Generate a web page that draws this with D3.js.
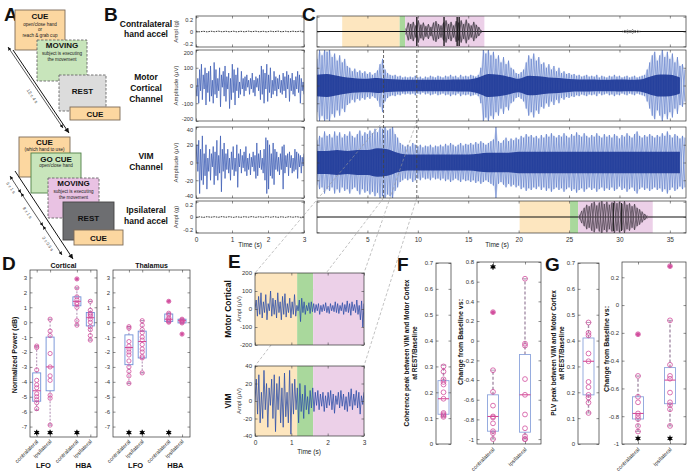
<!DOCTYPE html>
<html><head><meta charset="utf-8">
<script src="https://cdn.jsdelivr.net/npm/d3@7"></script>
<style>body{margin:0;background:#fff}</style>
</head><body><script>
// ================= DATA =================
// Panel A schematic
const aTrial1 = [["CUE","open/close hand","or","reach & grab cup"],["MOVING","subject is executing","the movement"],["REST"],["CUE"]];
const aTrial2 = [["CUE","(which hand to use)"],["GO CUE","open/close hand"],["MOVING","subject is executing","the movement"],["REST"],["CUE"]];
const aDurations1 = ["12 ± 4 s"];
const aDurations2 = ["5 ± 1 s","8 ± 1 s","2 ± 0.5 s"];
// Panel B (3 s windows), sample values
const bMotor = [0,-60,40,-100,90,-30,120,-80,60,-20,100,-110,70,-40,80,-90,110,-60,30,-100,130,-50,90,-70,40,-30,100,-120,60,-10,80,-60,110,-90,50,-20,70,-130,40,-80,120,-40,90,-110,60,-30,100,-70,20,-50,80,-20,40,-60,50,-30,60,-10,30,-50,40,-20,70,-40,30,-60,50,-10,40,-30,60,-80,110,-50,90,-100,70,-20,120,-90,60,-40,100,-70,30,-50,80,-30,50,-60,40,-20,60,-40,30,-50,70,-30,50,-70,80,-20,60,-90,40,-30,70,-50,30,-60,50,-20,80,-40,60,-100,40,-30,20,-50];
const bVim = [0,20,-10,25,-35,15,-20,30,-25,10,-15,20,-30,5,-10,15,-20,10,-5,18,-25,12,-15,25,-20,8,-12,30,-33,15,-10,22,-18,10,-8,15,-12,5,-20,12,-8,18,-15,5,-10,20,-28,10,-5,15,-12,8,-6,12,-10,18,-15,5,-8,10,-14,6,-5,12,-10,8,-18,22,-15,10,-6,14,-8,5,-12,15,-20,28,-35,25,-30,20,-15,10,-18,22,-25,15,-8,12,-10,6,-14,10,-8,18,-30,20,-12,8,-5,10,-15,12,-6,8,-12,5,-10,15,-8,12,-18,10,-5,8,-12,6,-4,10];
const bAccContra = [0.004,-0.004,0.003,-0.005,0.004,-0.003,0.005,-0.004,0.003,-0.004,0.004,-0.005,0.003,-0.004,0.005,-0.003,0.004,-0.004,0.003,-0.005,0.004,-0.003,0.005,-0.004,0.003,-0.004,0.004,-0.003,0.005,-0.004];
const bAccIpsi = [-0.004,0.003,-0.005,0.004,-0.003,0.004,-0.004,0.005,-0.003,0.004,-0.005,0.003,-0.004,0.004,-0.003,0.005,-0.004,0.003,-0.004,0.005,-0.003,0.004,-0.004,0.003,-0.005,0.004,-0.003,0.004,-0.004,0.003];
const bTicks = [0,1,2,3];
// Panel C (0-36.5 s), amplitude envelopes, 0.25 s steps
const cMotorEnv = [150,200,170,200,190,200,160,180,140,170,130,150,110,100,80,95,75,85,70,80,65,75,60,70,85,120,150,90,70,60,55,60,50,55,45,50,45,50,45,55,45,50,40,50,45,55,50,45,55,50,45,55,50,60,50,55,45,60,50,55,50,60,55,50,60,100,200,180,200,170,190,150,170,130,160,120,140,100,90,70,65,75,90,130,170,150,180,140,160,120,130,100,120,90,110,80,100,70,80,65,70,60,65,55,60,50,55,60,50,55,50,60,45,55,50,45,55,50,60,50,55,45,50,55,45,50,55,45,50,55,60,90,130,170,190,140,170,200,160,190,150,180,130,160,110,120,90];
const cVimEnv = [25,30,28,35,30,32,28,35,30,34,28,32,30,35,30,28,32,36,30,34,32,36,33,38,34,40,38,40,36,38,40,32,28,22,20,18,20,18,22,20,18,20,17,19,18,20,17,19,18,20,18,21,19,22,20,18,20,22,19,21,20,22,20,23,21,24,22,20,22,24,26,40,24,22,25,28,24,27,25,28,26,30,28,32,29,31,28,30,27,31,28,32,29,33,30,28,31,29,33,30,28,32,30,34,31,29,33,30,28,31,29,33,30,28,32,29,31,28,32,30,27,31,29,33,30,28,32,35,30,28,31,29,32,30,28,31,29,33,30,35,31,28,32,30,27,30,28];
// dense core of the traces, 1 s steps
const cMotorCore = [60,65,55,45,40,38,42,36,34,32,32,32,33,33,34,34,45,65,60,50,38,55,52,45,42,36,34,34,33,33,34,33,34,50,62,60,45];
const cVimCore = [13,13,14,13,14,14,16,15,11,9,9,9,9,9,9,9,10,11,11,11,12,12,12,12,12,12,12,12,12,12,12,12,12,12,12,12,12];
const cContraBurstT0 = 8.8;
const cContraBurst = [0.04,0.12,0.1,0.13,0.08,0.15,0.09,0.12,0.07,0.1,0.06,0.12,0.14,0.1,0.08,0.12,0.15,0.1,0.13,0.08,0.14,0.12,0.15,0.1,0.16,0.11,0.08,0.13,0.09,0.06,0.02];
const cContraSpikes = [9.9,12.6,13.9,14.1];
const cContraSmallT0 = 30.3;
const cContraSmall = [0.01,0.02,0.025,0.02,0.03,0.02,0.015,0.01];
const cIpsiBurstT0 = 26.0;
const cIpsiBurst = [0.03,0.08,0.12,0.16,0.14,0.18,0.2,0.15,0.19,0.21,0.17,0.2,0.16,0.19,0.21,0.18,0.2,0.17,0.21,0.16,0.18,0.14,0.17,0.12,0.1,0.07,0.04,0.02];
const cIpsiSpikes = [29.4,30.2];
const cContraPhases = [2.5,8.2,8.75,16.6];
const cIpsiPhases = [20.1,25.1,25.9,33.3];
const cWindow = [6.6,9.9];
const cTicks = [5,10,15,20,25,30,35];
// Panel D
const dCats = ["contralateral","ipsilateral","contralateral","ipsilateral"];
const dBands = ["LFO","HBA"];
const dPos = [1,2,4,5];
const dTicks = [3,2,1,0,-1,-2,-3,-4,-5,-6,-7];
const cortQ1 = [-5.3,-4.6,1.1,-0.25], cortMed = [-4.6,-3.0,1.4,0.3], cortQ3 = [-3.4,-1.0,1.7,0.65];
const cortLo = [-5.9,-6.9,-0.2,-1.2], cortHi = [-1.6,0.2,2.3,1.4];
const cortOut = [[],[],[2.9],[]];
const cortPts = [[-1.6,-1.7,-3.2,-3.9,-4.2,-4.4,-4.8,-5.0,-5.2,-5.4,-5.8],[0.2,-0.6,-0.9,-2.1,-3.0,-3.6,-3.9,-4.9,-5.1,-6.9],[2.9,2.3,1.7,1.5,1.3,1.2,1.0,0.1,-0.2],[1.4,0.8,0.6,0.5,0.4,0.2,0.0,-0.3,-0.5,-0.9,-1.2]];
const cortSig = [1,1,1,0];
const thalQ1 = [-2.85,-2.4,0.05,-0.05], thalMed = [-1.7,-1.3,0.2,0.1], thalQ3 = [-0.85,-0.6,0.55,0.2];
const thalLo = [-4.1,-3.4,0.0,-0.05], thalHi = [-0.3,0.1,0.6,0.2];
const thalOut = [[],[],[1.4],[-0.8]];
const thalPts = [[-0.3,-0.4,-1.3,-1.6,-1.8,-2.0,-2.2,-2.6,-3.0,-3.3,-3.6,-4.1],[0.1,-0.2,-0.5,-0.7,-1.0,-1.2,-1.5,-1.8,-2.0,-2.3,-2.4,-3.4],[1.4,0.6,0.5,0.3,0.2,0.1,0.05,0.0],[0.2,0.15,0.1,0.05,0.0,-0.05,-0.8]];
const thalSig = [1,1,1,0];
const dSigLevel = -7.4;
// Panel E (3 s window of C)
const eMotor = [0,50,-40,70,-30,90,-50,40,-20,80,-60,30,-10,100,-40,60,-30,50,-50,90,-20,40,-60,70,-30,85,-45,30,-20,60,-50,40,-30,80,-40,20,-10,50,-70,60,-20,40,-30,20,-10,35,-25,40,-15,30,-20,25,-10,30,-30,20,-15,25,-10,35,-20,15,-25,30,-10,20,-15,40,-20,30,-25,20,-10,35,-30,25,-15,45,-20,30,-35,40,-10,25,-20,50,-30,20,-60,45,-100,30];
const eVim = [0,25,-15,30,-25,10,-20,35,-10,20,-30,15,-5,25,-20,30,-35,20,-10,28,-25,15,-30,32,-18,10,-25,35,-38,20,-15,25,-10,15,-25,20,-12,8,-20,18,-10,5,-15,12,-8,15,-12,10,-5,12,-10,8,-6,10,-12,6,-8,10,-5,12,-10,8,-14,6,-4,10,-8,12,-6,8,-10,5,-12,10,-6,14,-10,8,-5,12,-8,10,-15,6,-4,10];
const ePhases = [0,1.16,1.6,3];
// Panels F and G
const fgCats = ["contralateral","ipsilateral"];
const fCohPts = [0.30,0.28,0.25,0.24,0.23,0.20,0.175,0.12,0.115,0.11,0.105];
const fCohStats = [0.115,0.175,0.245,0.105,0.305]; // q1, med, q3, lo, hi
const fChgStats = [[-0.92,-0.77,-0.55,-1.0,-0.30],[-0.93,-0.55,-0.14,-1.0,0.63]];
const fChgPts = [[0.29,-0.30,-0.52,-0.66,-0.77,-0.78,-0.84,-0.92,-0.94,-1.0],[0.63,-0.03,-0.05,-0.39,-0.55,-0.75,-0.89,-0.97,-1.0,-1.0]];
const fChgOut = [[0.29],[]];
const fChgSig = [0.75,null];
const gPlvPts = [0.47,0.43,0.42,0.35,0.32,0.24,0.22,0.19,0.18,0.16,0.12];
const gPlvStats = [0.19,0.32,0.41,0.12,0.47];
const gChgStats = [[-0.82,-0.78,-0.66,-0.91,-0.51],[-0.71,-0.54,-0.45,-0.87,-0.11]];
const gChgPts = [[-0.21,-0.51,-0.66,-0.70,-0.78,-0.80,-0.82,-0.87,-0.91],[0.28,-0.11,-0.43,-0.51,-0.53,-0.63,-0.70,-0.72,-0.75,-0.87]];
const gChgOut = [[-0.21],[0.28]];
const gChgSig = [-0.96,-0.96];

// ================= DRAWING =================
const FONT = '"Liberation Sans", Arial, Helvetica, sans-serif';
const svg = d3.select("body").append("svg").attr("width",688).attr("height",472).style("font-family",FONT);
const defs = svg.append("defs");
const phaseColors = ["#fde6bf","#a9d89c","#ecd0e8"];
let clipId = 0;
function clip(x0,y0,x1,y1){const id="c"+(clipId++);defs.append("clipPath").attr("id",id).append("rect").attr("x",x0).attr("y",y0).attr("width",x1-x0).attr("height",y1-y0);return `url(#${id})`;}
function txt(g,x,y,s,o={}){const t=g.append("text").attr("x",x).attr("y",y).text(s).attr("font-size",o.size||7).attr("fill",o.fill||"#111").attr("text-anchor",o.anchor||"middle").attr("font-weight",o.bold?"bold":"normal");if(o.rot!==undefined)t.attr("transform",`rotate(${o.rot},${x},${y})`);return t;}
function styleAx(s,fs){s.select(".domain").remove();s.selectAll("line").attr("stroke","#444").attr("stroke-width",0.6);s.selectAll("text").attr("font-size",fs||6).attr("fill","#333").attr("font-family",FONT);}
function axes(g,xs,ys,o){
  const [x0,x1]=xs.range(),[yb,yt]=ys.range();
  const [dmin,dmax]=ys.domain();
  if(o.yt){
    g.append("g").attr("transform",`translate(${x0},0)`).call(d3.axisLeft(ys).tickValues(o.yt).tickSize(-2.5).tickPadding(3).tickFormat(o.ylab===false?"":(d=>String(d)))).call(s=>{styleAx(s,o.yfs);
      if(o.nudge){s.selectAll(".tick").each(function(d){const t=d3.select(this).select("text");if(d>=o.yt[o.yt.length-1]&&Math.abs(ys(d)-yt)<4)t.attr("dy","0.8em");if(d<=o.yt[0]&&Math.abs(ys(d)-yb)<4)t.attr("dy","-0.15em");});}
    });
    g.append("g").attr("transform",`translate(${x1},0)`).call(d3.axisRight(ys).tickValues(o.yt).tickSize(-2.5).tickFormat("")).call(s=>styleAx(s));
  }
  if(o.xt){
    g.append("g").attr("transform",`translate(0,${yb})`).call(d3.axisBottom(xs).tickValues(o.xt).tickSize(-2.5).tickPadding(4).tickFormat(o.xlab?(d=>String(d)):"")).call(s=>styleAx(s,6.5));
    g.append("g").attr("transform",`translate(0,${yt})`).call(d3.axisTop(xs).tickValues(o.xt).tickSize(-2.5).tickFormat("")).call(s=>styleAx(s));
  }
  g.append("rect").attr("x",x0).attr("y",yt).attr("width",x1-x0).attr("height",yb-yt).attr("fill","none").attr("stroke","#333").attr("stroke-width",0.7);
}
function shade(g,xs,y0,y1,b){for(let i=0;i<3;i++)g.append("rect").attr("x",xs(b[i])).attr("y",y0).attr("width",xs(b[i+1])-xs(b[i])).attr("height",y1-y0).attr("fill",phaseColors[i]);}
function trace(g,xs,ys,vals,t0,t1,color,w,cp,dash){
  const tt=d3.scaleLinear([0,vals.length-1],[t0,t1]);
  const p=g.append("path").datum(vals).attr("d",d3.line().x((d,i)=>xs(tt(i))).y(d=>ys(d))).attr("fill","none").attr("stroke",color).attr("stroke-width",w).attr("stroke-linejoin","round").attr("clip-path",cp);
  if(dash)p.attr("stroke-dasharray",dash);
}
function env(g,xs,ys,vals,t0,dt,fill,cp,curve,op){
  g.append("path").datum(vals).attr("d",d3.area().curve(curve||d3.curveLinear).x((d,i)=>xs(t0+i*dt)).y0(d=>ys(-d)).y1(d=>ys(d))).attr("fill",fill).attr("fill-opacity",op||1).attr("clip-path",cp);
}
// draws an amplitude envelope as a dense oscillating stroke (peaks alternate above / below zero)
function zig(g,xs,ys,vals,t0,dt,color,w,cp){
  [0,1].forEach(ph=>g.append("path").datum(vals).attr("d",d3.line().x((d,i)=>xs(t0+i*dt)).y((d,i)=>ys((i+ph)%2?-d:d))).attr("fill","none").attr("stroke",color).attr("stroke-width",w).attr("stroke-linejoin","round").attr("clip-path",cp));
}

// ---------- Panel A ----------
const gA = svg.append("g");
txt(gA,4,21,"A",{size:19,bold:true,anchor:"start"});
defs.append("marker").attr("id","arr").attr("viewBox","0 0 6 6").attr("refX",6).attr("refY",3).attr("markerWidth",5).attr("markerHeight",5).attr("orient","auto-start-reverse").attr("markerUnits","userSpaceOnUse").append("path").attr("d","M0,0L6,3L0,6z").attr("fill","#111");
defs.append("marker").attr("id","arr2").attr("viewBox","0 0 6 6").attr("refX",6).attr("refY",3).attr("markerWidth",3.5).attr("markerHeight",3.5).attr("orient","auto-start-reverse").attr("markerUnits","userSpaceOnUse").append("path").attr("d","M0,0L6,3L0,6z").attr("fill","#111");
function aBox(x,y,w,h,fill,stroke,dashed,lines,tys,titleFill){
  gA.append("rect").attr("x",x).attr("y",y).attr("width",w).attr("height",h).attr("fill",fill).attr("stroke",stroke).attr("stroke-width",0.9).attr("stroke-dasharray",dashed?"2.5,1.5":null);
  lines.forEach((s,i)=>txt(gA,x+w/2,tys[i],s,{size:i===0?8:4.6,bold:i===0,fill:i===0?(titleFill||"#111"):"#222"}));
}
const orangeF="#fcd7a0", greenF="#c8e5bb", pinkF="#e9c2e3";
aBox(15,10,50,40,orangeF,"#7d6b58",false,aTrial1[0],[18.5,25.5,30.5,36.5]);
aBox(37,40,50,41,greenF,"#666",true,aTrial1[1],[48,54.5,60.5]);
aBox(59,75,47,36,"#dcdcdc","#666",true,aTrial1[2],[94]);
aBox(70,107,50,13,orangeF,"#7d6b58",false,aTrial1[3],[116.5]);
aBox(19,137,51,40,orangeF,"#7d6b58",false,aTrial2[0],[145,151]);
aBox(31,153,50,40,greenF,"#4f7f47",false,aTrial2[1],[161.5,167]);
aBox(48,178,51,40,pinkF,"#666",true,aTrial2[2],[186,192.5,198.5]);
aBox(63,202,51,38,"#6d6e71","#444",false,aTrial2[3],[221],"#111");
aBox(74,230,49,15,orangeF,"#7d6b58",false,aTrial2[4],[240.5]);
gA.append("line").attr("x1",8).attr("y1",47).attr("x2",63).attr("y2",128).attr("stroke","#111").attr("stroke-width",0.7).attr("marker-start","url(#arr2)").attr("marker-end","url(#arr2)");
gA.append("line").attr("x1",13).attr("y1",50).attr("x2",69).attr("y2",133).attr("stroke","#111").attr("stroke-width",1).attr("marker-end","url(#arr)");
txt(gA,31,97,aDurations1[0],{size:4.5,fill:"#444",rot:56});
gA.append("line").attr("x1",15).attr("y1",171).attr("x2",73).attr("y2",259).attr("stroke","#111").attr("stroke-width",1).attr("marker-end","url(#arr)");
const seg=[[10,176],[21,193],[43,226],[62,255]];
for(let i=0;i<3;i++){
  gA.append("line").attr("x1",seg[i][0]).attr("y1",seg[i][1]).attr("x2",seg[i+1][0]).attr("y2",seg[i+1][1]).attr("stroke","#111").attr("stroke-width",0.7).attr("marker-start","url(#arr2)").attr("marker-end","url(#arr2)");
  const mx=(seg[i][0]+seg[i+1][0])/2-6, my=(seg[i][1]+seg[i+1][1])/2+4;
  txt(gA,mx,my,aDurations2[i],{size:4.3,fill:"#444",rot:56});
}

// ---------- Panels B & C ----------
const gB = svg.append("g"), gC = svg.append("g");
txt(gB,104,21,"B",{size:19,bold:true,anchor:"start"});
txt(gC,302,21,"C",{size:19,bold:true,anchor:"start"});
const bT = d3.scaleLinear([0,3],[196,304]);
const cT = d3.scaleLinear([0,36.6],[317,686]);
const rowY = [[16,47],[50,121],[127,198],[201,233]];
const rowDom = [[-0.21,0.21],[-200,200],[-40,40],[-0.21,0.21]];
const bYT = [[-0.2,0,0.2],[-200,-100,0,100,200],[-40,-20,0,20,40],[-0.2,0,0.2]];
const cYT = [[-0.2,0,0.2],[-100,0,100],[-20,0,20],[-0.2,0,0.2]];
const rowTitles = [["Contralateral","hand accel"],["Motor","Cortical","Channel"],["VIM","Channel"],["Ipsilateral","hand accel"]];
const rowYLab = ["Ampl (g)","Amplitude (μV)","Amplitude (μV)","Ampl (g)"];
const rowTitleY = [[27,37],[80,91,102],[159,170],[213,224]];
rowY.forEach((r,i)=>{
  const ys=d3.scaleLinear(rowDom[i],[r[1],r[0]]);
  rowTitles[i].forEach((s,j)=>txt(gB,146,rowTitleY[i][j],s,{size:8.5,bold:true}));
  txt(gB,178,(r[0]+r[1])/2,rowYLab[i],{size:6,fill:"#333",rot:-90});
  const cpB=clip(196,r[0],304,r[1]);
  const cpC=clip(317,r[0],686,r[1]);
  gB.append("rect").attr("x",196).attr("y",r[0]).attr("width",108).attr("height",r[1]-r[0]).attr("fill","#fff");
  gC.append("rect").attr("x",317).attr("y",r[0]).attr("width",369).attr("height",r[1]-r[0]).attr("fill","#fff");
  if(i===0||i===3){
    trace(gB,bT,ys,i===0?bAccContra:bAccIpsi,0,3,"#222",0.9,cpB,"1.6,0.9");
    shade(gC,cT,r[0],r[1],i===0?cContraPhases:cIpsiPhases);
    gC.append("line").attr("x1",cT(0)).attr("x2",cT(36.6)).attr("y1",ys(0)).attr("y2",ys(0)).attr("stroke","#111").attr("stroke-width",1.1);
    if(i===0){
      env(gC,cT,ys,cContraBurst,cContraBurstT0,0.25,"#6a5f6e",cpC,null,0.35);
      zig(gC,cT,ys,cContraBurst,cContraBurstT0,0.25,"#3b353e",0.7,cpC);
      zig(gC,cT,ys,cContraSmall,cContraSmallT0,0.25,"#555",0.6,cpC);
      cContraSpikes.forEach(t=>gC.append("line").attr("x1",cT(t)).attr("x2",cT(t)).attr("y1",r[0]+1).attr("y2",r[1]-1).attr("stroke","#111").attr("stroke-width",1.3));
    } else {
      env(gC,cT,ys,cIpsiBurst,cIpsiBurstT0,0.25,"#7a6a7c",cpC,null,0.35);
      zig(gC,cT,ys,cIpsiBurst,cIpsiBurstT0,0.25,"#4a3f4c",0.7,cpC);
      cIpsiSpikes.forEach(t=>gC.append("line").attr("x1",cT(t)).attr("x2",cT(t)).attr("y1",r[0]+2).attr("y2",r[1]-2).attr("stroke","#222").attr("stroke-width",1));
    }
  } else {
    trace(gB,bT,ys,i===1?bMotor:bVim,0,3,"#3c5cb4",0.75,cpB);
    const ev=i===1?cMotorEnv:cVimEnv;
    env(gC,cT,ys,ev,0,0.25,"#7d97d6",cpC,null,0.25);
    zig(gC,cT,ys,ev,0,0.25,"#5676c8",0.6,cpC);
    env(gC,cT,ys,i===1?cMotorCore:cVimCore,0,1,"#1e3a98",cpC,d3.curveMonotoneX,0.92);
  }
  axes(gB,bT,ys,{yt:bYT[i],xt:bTicks,xlab:i===3,nudge:true,yfs:5.6});
  axes(gC,cT,ys,{yt:cYT[i],ylab:false,xt:cTicks,xlab:i===3});
});
txt(gB,250,247,"Time (s)",{size:6.5,fill:"#222"});
txt(gC,497,247,"Time (s)",{size:6.5,fill:"#222"});
cWindow.forEach(t=>gC.append("line").attr("x1",cT(t)).attr("x2",cT(t)).attr("y1",50).attr("y2",198).attr("stroke","#444").attr("stroke-width",0.8).attr("stroke-dasharray","3,2"));

// connector lines C -> E
const gL = svg.append("g").attr("stroke","#999").attr("stroke-width",0.6).attr("stroke-dasharray","3,2");
[[cT(cWindow[0]),121,255,273],[cT(cWindow[1]),121,364,273],[cT(cWindow[0]),198,255,366],[cT(cWindow[1]),198,364,366]].forEach(l=>gL.append("line").attr("x1",l[0]).attr("y1",l[1]).attr("x2",l[2]).attr("y2",l[3]));

// ---------- Panel E ----------
const gE = svg.append("g");
txt(gE,228,268,"E",{size:19,bold:true,anchor:"start"});
const eT = d3.scaleLinear([0,3],[255,364]);
const eRows=[[273,345,[-200,200],[-200,-100,0,100,200],eMotor,"Motor Cortical"],[366,436,[-40,40],[-40,-20,0,20,40],eVim,"VIM"]];
eRows.forEach((r,i)=>{
  const ys=d3.scaleLinear(r[2],[r[1],r[0]]);
  shade(gE,eT,r[0],r[1],ePhases);
  trace(gE,eT,ys,r[4],0,3,"#2f4fa8",0.8,clip(255,r[0],364,r[1]));
  axes(gE,eT,ys,{yt:r[3],xt:[0,1,2,3],xlab:i===1});
  txt(gE,231,(r[0]+r[1])/2,r[5],{size:8.5,bold:true,rot:-90});
  txt(gE,241,(r[0]+r[1])/2,"Ampl (μV)",{size:5.8,fill:"#333",rot:-90});
});
txt(gE,309,454,"Time (s)",{size:6.5,fill:"#222"});

// ---------- Box plot helper ----------
function boxplot(g,xs,ys,p,st,pts,outl,o){
  const x=xs(p),hw=o.bw/2;
  const [q1,med,q3,lo,hi]=st;
  g.append("line").attr("x1",x).attr("x2",x).attr("y1",ys(q3)).attr("y2",ys(hi)).attr("stroke",o.wc).attr("stroke-width",o.ww).attr("stroke-dasharray",o.wd);
  g.append("line").attr("x1",x).attr("x2",x).attr("y1",ys(q1)).attr("y2",ys(lo)).attr("stroke",o.wc).attr("stroke-width",o.ww).attr("stroke-dasharray",o.wd);
  [hi,lo].forEach(v=>g.append("line").attr("x1",x-hw/2).attr("x2",x+hw/2).attr("y1",ys(v)).attr("y2",ys(v)).attr("stroke",o.wc).attr("stroke-width",0.8));
  g.append("rect").attr("x",x-hw).attr("y",ys(q3)).attr("width",2*hw).attr("height",Math.max(0.5,ys(q1)-ys(q3))).attr("fill","none").attr("stroke",o.bc).attr("stroke-width",0.9);
  g.append("line").attr("x1",x-hw).attr("x2",x+hw).attr("y1",ys(med)).attr("y2",ys(med)).attr("stroke",o.mc).attr("stroke-width",1);
  pts.forEach(v=>g.append("circle").attr("cx",x).attr("cy",ys(v)).attr("r",o.r).attr("fill","none").attr("stroke",o.pc).attr("stroke-width",0.8));
  outl.forEach(v=>g.append("circle").attr("cx",x).attr("cy",ys(v)).attr("r",o.r*0.85).attr("fill",o.pc));
}
function star(g,x,y){
  g.append("circle").attr("cx",x).attr("cy",y).attr("r",1.7).attr("fill","#000");
  g.append("path").attr("d",d3.symbol(d3.symbolAsterisk,22)()).attr("transform",`translate(${x},${y})`).attr("stroke","#000").attr("stroke-width",1.1).attr("fill","none");
}
const dOpt={bw:8,bc:"#6f8fd6",mc:"#d3408f",wc:"#8a5a8e",ww:0.7,wd:"2,1.5",r:2.1,pc:"#d24f9e"};
const fgOpt={bw:11,bc:"#8ca4dc",mc:"#d3408f",wc:"#a58fa8",ww:1.4,wd:"3,2",r:2.4,pc:"#d24f9e"};
function xLabels(g,xs,pos,labels,y){pos.forEach((p,i)=>txt(g,xs(p)+2,y,labels[i],{size:5.5,fill:"#333",anchor:"end",rot:-45}));}

// ---------- Panel D ----------
const gD = svg.append("g");
txt(gD,2,270,"D",{size:19,bold:true,anchor:"start"});
const dY = d3.scaleLinear([-7.7,3.5],[437,270]);
const dPanels=[{x0:30,x1:97,dom:[0.5,5.5],title:"Cortical",q1:cortQ1,med:cortMed,q3:cortQ3,lo:cortLo,hi:cortHi,out:cortOut,pts:cortPts,sig:cortSig},
               {x0:113,x1:190,dom:[-0.2,5.6],title:"Thalamus",q1:thalQ1,med:thalMed,q3:thalQ3,lo:thalLo,hi:thalHi,out:thalOut,pts:thalPts,sig:thalSig}];
dPanels.forEach(P=>{
  const xs=d3.scaleLinear(P.dom,[P.x0,P.x1]);
  gD.append("rect").attr("x",P.x0).attr("y",270).attr("width",P.x1-P.x0).attr("height",167).attr("fill","#fff");
  dPos.forEach((p,i)=>{
    boxplot(gD,xs,dY,p,[P.q1[i],P.med[i],P.q3[i],P.lo[i],P.hi[i]],P.pts[i],P.out[i],dOpt);
    if(P.sig[i])star(gD,xs(p),dY(dSigLevel));
  });
  axes(gD,xs,dY,{yt:dTicks,xt:dPos,xlab:false});
  txt(gD,(P.x0+P.x1)/2,268,P.title,{size:7,bold:true});
  xLabels(gD,xs,dPos,dCats,442);
  txt(gD,(xs(1)+xs(2))/2,468,dBands[0],{size:7.5,bold:true});
  txt(gD,(xs(4)+xs(5))/2,468,dBands[1],{size:7.5,bold:true});
});
txt(gD,17,355,"Normalized Power (dB)",{size:7,bold:true,rot:-90});

// ---------- Panel F ----------
const gF = svg.append("g");
txt(gF,397,271,"F",{size:19,bold:true,anchor:"start"});
const fgY1 = d3.scaleLinear([0,0.7],[444,263]);
const fX1 = d3.scaleLinear([0.5,1.5],[436,451]);
boxplot(gF,fX1,fgY1,1,fCohStats,fCohPts,[],fgOpt);
axes(gF,fX1,fgY1,{yt:[0,0.1,0.2,0.3,0.4,0.5,0.6,0.7]});
txt(gF,409,353,"Coherence peak between VIM and Motor Cortex",{size:6.5,bold:true,rot:-90});
txt(gF,417,353,"at REST/Baseline",{size:6.5,bold:true,rot:-90});
const fY2 = d3.scaleLinear([-1.05,0.8],[444,262]);
const fX2 = d3.scaleLinear([0.5,2.5],[477,541]);
[0,1].forEach(i=>{
  boxplot(gF,fX2,fY2,i+1,fChgStats[i],fChgPts[i],fChgOut[i],fgOpt);
  if(fChgSig[i]!==null)star(gF,fX2(i+1),fY2(fChgSig[i]));
});
axes(gF,fX2,fY2,{yt:[-1,-0.8,-0.6,-0.4,-0.2,0,0.2,0.4,0.6,0.8],xt:[1,2],xlab:false});
txt(gF,463,342,"Change from Baseline vs:",{size:7,bold:true,rot:-90});
xLabels(gF,fX2,[1,2],fgCats,450);

// ---------- Panel G ----------
const gG = svg.append("g");
txt(gG,545,271,"G",{size:19,bold:true,anchor:"start"});
const gX1 = d3.scaleLinear([0.5,1.5],[578,599]);
boxplot(gG,gX1,fgY1,1,gPlvStats,gPlvPts,[],fgOpt);
axes(gG,gX1,fgY1,{yt:[0,0.1,0.2,0.3,0.4,0.5,0.6,0.7]});
txt(gG,556,353,"PLV peak between VIM and Motor Cortex",{size:6.5,bold:true,rot:-90});
txt(gG,564,353,"at REST/Baseline",{size:6.5,bold:true,rot:-90});
const gY2 = d3.scaleLinear([-1,0.31],[444,262]);
const gX2 = d3.scaleLinear([0.5,2.5],[622,686]);
[0,1].forEach(i=>{
  boxplot(gG,gX2,gY2,i+1,gChgStats[i],gChgPts[i],gChgOut[i],fgOpt);
  star(gG,gX2(i+1),gY2(gChgSig[i]));
});
axes(gG,gX2,gY2,{yt:[-1,-0.8,-0.6,-0.4,-0.2,0,0.2],xt:[1,2],xlab:false});
txt(gG,609,349,"Change from Baseline vs:",{size:7,bold:true,rot:-90});
xLabels(gG,gX2,[1,2],fgCats,450);
</script></body></html>
